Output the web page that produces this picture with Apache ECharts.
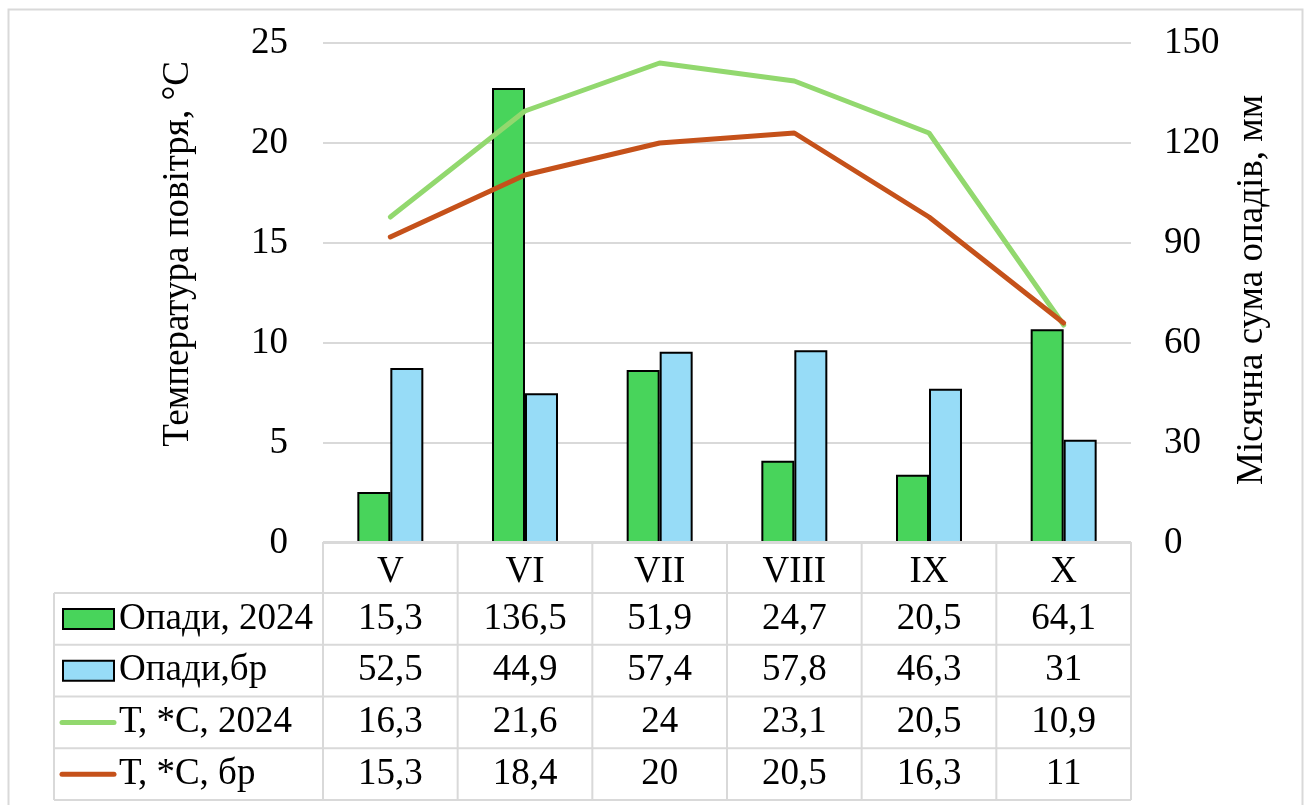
<!DOCTYPE html>
<html>
<head>
<meta charset="utf-8">
<script src="https://cdn.jsdelivr.net/npm/echarts@6/dist/echarts.min.js"></script>
<style>
  html, body { margin: 0; padding: 0; background: #fff; }
  #chart { width: 1308px; height: 805px; }
</style>
</head>
<body>
<div id="chart"></div>
<script>
// Months of the growing season
const months = ['V', 'VI', 'VII', 'VIII', 'IX', 'X'];
// Monthly precipitation, mm
const rain2024 = [15.3, 136.5, 51.9, 24.7, 20.5, 64.1];
const rainNorm = [52.5, 44.9, 57.4, 57.8, 46.3, 31];
// Mean air temperature, °C
const temp2024 = [16.3, 21.6, 24, 23.1, 20.5, 10.9];
const tempNorm = [15.3, 18.4, 20, 20.5, 16.3, 11];
// Series names
const seriesNames = ['Опади, 2024', 'Опади,бр', 'Т, *С, 2024', 'Т, *С, бр'];
const leftTitle = 'Температура повітря, °С';
const rightTitle = 'Місячна сума опадів, мм';

const FONT = "'Liberation Serif', 'Times New Roman', serif";
const FS = 37;
const GRID = '#d9d9d9';
const colors = ['#48d45b', '#97dcf7', '#92d86e', '#c5511a'];

const chart = echarts.init(document.getElementById('chart'), null, { renderer: 'canvas' });

const fmt = v => String(v).replace('.', ',');

chart.setOption({
  animation: false,
  backgroundColor: '#fff',
  grid: { left: 323, right: 177, top: 43, bottom: 262 },
  xAxis: {
    type: 'category',
    data: months,
    axisLine: { show: false },
    axisTick: { show: false },
    axisLabel: { margin: 11, fontFamily: FONT, fontSize: FS, color: '#000' }
  },
  yAxis: [
    {
      type: 'value', min: 0, max: 25, interval: 5,
      axisLine: { show: false }, axisTick: { show: false },
      splitLine: { lineStyle: { color: GRID, width: 2 } },
      axisLabel: { margin: 35, fontFamily: FONT, fontSize: FS, color: '#000' }
    },
    {
      type: 'value', min: 0, max: 150, interval: 30,
      axisLine: { show: false }, axisTick: { show: false },
      splitLine: { show: false },
      axisLabel: { margin: 33, fontFamily: FONT, fontSize: FS, color: '#000' }
    }
  ],
  series: [
    {
      name: seriesNames[0], type: 'bar', yAxisIndex: 1, data: rain2024,
      barGap: '0%', barCategoryGap: '51%',
      itemStyle: { color: colors[0], borderColor: '#000', borderWidth: 2 }
    },
    {
      name: seriesNames[1], type: 'bar', yAxisIndex: 1, data: rainNorm,
      itemStyle: { color: colors[1], borderColor: '#000', borderWidth: 2 }
    },
    {
      name: seriesNames[2], type: 'line', yAxisIndex: 0, data: temp2024,
      symbol: 'none', lineStyle: { color: colors[2], width: 5, cap: 'round' }
    },
    {
      name: seriesNames[3], type: 'line', yAxisIndex: 0, data: tempNorm,
      symbol: 'none', lineStyle: { color: colors[3], width: 5, cap: 'round' }
    }
  ]
});

// Data table under the plot, aligned to the category axis
const rows = [rain2024, rainNorm, temp2024, tempNorm];
const tableTop = 542;
const headerBottom = 593;
const rowH = 51.75;
const legendLeft = 54;
const plotLeft = 323, plotRight = 1131;
const step = chart.convertToPixel({ xAxisIndex: 0 }, 1) - chart.convertToPixel({ xAxisIndex: 0 }, 0);

const g = [];
const line = (x1, y1, x2, y2) => g.push({
  type: 'line', shape: { x1, y1, x2, y2 },
  style: { stroke: GRID, lineWidth: 2 }, z: 10
});

// outer frame
g.push({ type: 'rect', shape: { x: 8.5, y: 9.5, width: 1294, height: 820 },
  style: { fill: 'none', stroke: GRID, lineWidth: 2 }, z: 0 });

// horizontal rules
const tableBottom = headerBottom + rowH * rows.length;
line(plotLeft, tableTop, plotRight, tableTop);
for (let r = 0; r <= rows.length; r++) {
  const y = headerBottom + rowH * r;
  line(legendLeft, y, plotRight, y);
}
// vertical rules
line(legendLeft, headerBottom, legendLeft, tableBottom);
for (let i = 0; i <= months.length; i++) {
  const x = chart.convertToPixel({ xAxisIndex: 0 }, 0) - step / 2 + step * i;
  line(x, tableTop, x, tableBottom);
}

// cell values, legend keys and row names
rows.forEach((vals, r) => {
  const cy = headerBottom + rowH * (r + 0.5);
  vals.forEach((v, i) => {
    g.push({
      type: 'text', z: 11,
      style: {
        text: fmt(v), x: chart.convertToPixel({ xAxisIndex: 0 }, i), y: cy,
        align: 'center', verticalAlign: 'middle',
        font: FS + 'px ' + FONT, fill: '#000'
      }
    });
  });
  if (r < 2) {
    g.push({ type: 'rect', z: 11, shape: { x: 63, y: cy - 10, width: 51, height: 20 },
      style: { fill: colors[r], stroke: '#000', lineWidth: 2 } });
  } else {
    g.push({ type: 'line', z: 11, shape: { x1: 62, y1: cy, x2: 114, y2: cy },
      style: { stroke: colors[r], lineWidth: 5, lineCap: 'round' } });
  }
  g.push({
    type: 'text', z: 11,
    style: {
      text: seriesNames[r], x: 119, y: cy, align: 'left', verticalAlign: 'middle',
      font: FS + 'px ' + FONT, fill: '#000'
    }
  });
});

// axis titles
g.push({
  type: 'text', z: 11, x: 178, y: 254, rotation: Math.PI / 2,
  style: { text: leftTitle, align: 'center', verticalAlign: 'middle', font: FS + 'px ' + FONT, fill: '#000' }
});
g.push({
  type: 'text', z: 11, x: 1252, y: 290, rotation: Math.PI / 2,
  style: { text: rightTitle, align: 'center', verticalAlign: 'middle', font: FS + 'px ' + FONT, fill: '#000' }
});

chart.setOption({ graphic: g });
</script>
</body>
</html>
